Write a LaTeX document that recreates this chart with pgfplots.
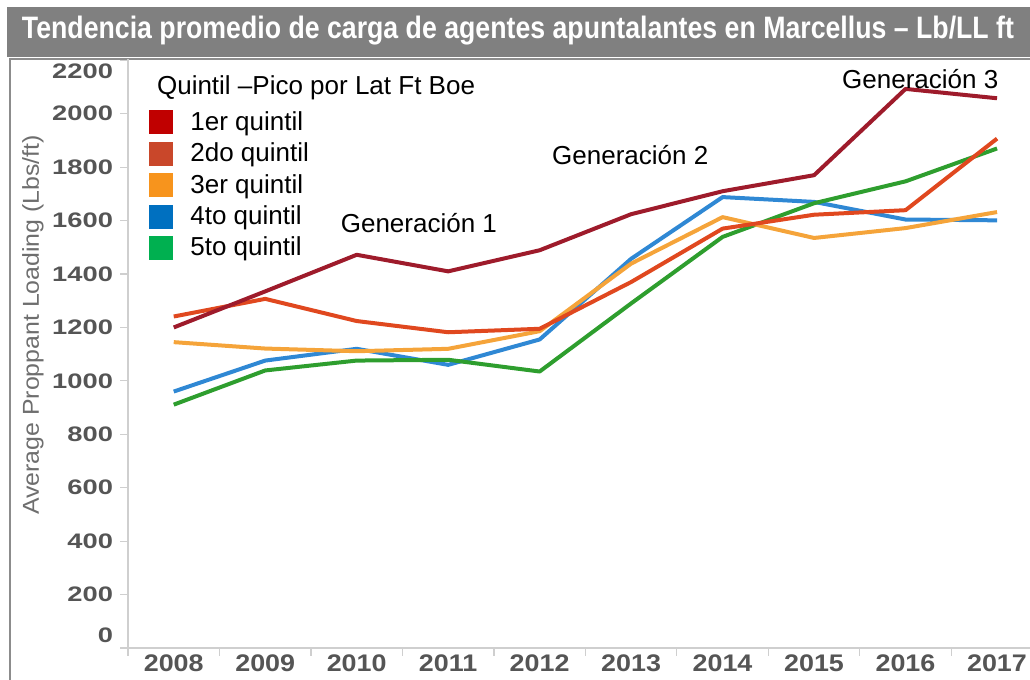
\documentclass[border=0pt]{standalone}
\usepackage{fontspec}
\setmainfont{Liberation Sans}
\usepackage{graphicx}
\usepackage{pgfplots}
\pgfplotsset{compat=1.18}

% line colours
\definecolor{q1}{HTML}{9E1B2B}
\definecolor{q2}{HTML}{E0481F}
\definecolor{q3}{HTML}{F5A43A}
\definecolor{q4}{HTML}{2F88D4}
\definecolor{q5}{HTML}{2E9E2E}
% legend squares
\definecolor{l1}{HTML}{C00000}
\definecolor{l2}{HTML}{C9472A}
\definecolor{l3}{HTML}{F7941D}
\definecolor{l4}{HTML}{0070C0}
\definecolor{l5}{HTML}{00B050}
\definecolor{band}{HTML}{808080}
\definecolor{frame}{HTML}{8C8C8C}
\definecolor{axgray}{HTML}{CFCFCF}
\definecolor{tickgray}{HTML}{555555}
\definecolor{labgray}{HTML}{6E6E6E}

% first and last y labels sit a little inside the axis, as in the original
\newcommand{\ylab}{%
  \ifnum\ticknum=0 \raisebox{6.5pt}[\height][\depth]{\scalebox{1.3}[1]{\pgfmathprintnumber{\tick}}}%
  \else\ifnum\ticknum=11 \raisebox{-5.5pt}[\height][\depth]{\scalebox{1.3}[1]{\pgfmathprintnumber{\tick}}}%
  \else\scalebox{1.3}[1]{\pgfmathprintnumber{\tick}}\fi\fi}

\begin{document}
\begin{tikzpicture}
\useasboundingbox (0,0) rectangle (515pt,340pt);
\fill[band] (3.5pt,311.5pt) rectangle (515pt,336.5pt);
\node[text=white, font=\bfseries\fontsize{15.5}{17}\selectfont] at (259pt,324.5pt)
  {\resizebox{496pt}{\height}{Tendencia promedio de carga de agentes apuntalantes en Marcellus – Lb/LL ft}};
\draw[frame, line width=1pt] (5pt,0) -- (5pt,310.5pt) -- (515pt,310.5pt);
\node[rotate=90, text=labgray, font=\fontsize{11.5}{13}\selectfont] at (16.5pt,177.5pt)
  {\resizebox{190pt}{\height}{Average Proppant Loading (Lbs/ft)}};

\begin{axis}[
  at={(64pt,16pt)}, anchor=south west,
  scale only axis, width=451pt, height=294.5pt,
  xmin=2007.5, xmax=2017.36, ymin=0, ymax=2205,
  axis x line=bottom, axis y line=left,
  axis line style={-, draw=axgray, line width=0.8pt},
  clip=false,
  xtick={2008,2009,...,2017},
  minor xtick={2007.5,2008.5,...,2016.5},
  ytick={0,200,...,2200},
  tick align=outside,
  major tick length=4pt, minor tick length=4pt,
  major x tick style={draw=none},
  tick style={draw=axgray, line width=0.6pt},
  scaled ticks=false,
  /pgf/number format/1000 sep={},
  /pgf/number format/assume math mode=true,
  xticklabel={\scalebox{1.12}[1]{\pgfmathprintnumber{\tick}}},
  yticklabel={\ylab},
  xticklabel style={font=\bfseries\fontsize{12}{14}\selectfont, text=tickgray, yshift=4pt},
  yticklabel style={font=\bfseries\fontsize{10.5}{12}\selectfont, text=tickgray},
  legend image code/.code={\fill[#1] (0pt,-6pt) rectangle (12pt,6pt);},
  legend style={at={(rel axis cs:0,1)}, anchor=north west, xshift=10.5pt, yshift=-25.5pt,
    draw=none, fill=none, inner sep=0pt, font=\fontsize{13}{15}\selectfont,
    nodes={inner sep=0pt}, column sep=8.5pt, row sep=3.7pt},
  legend cell align=left,
  every axis plot/.append style={line width=2pt, line join=round},
]
\addlegendimage{fill=l1, draw=none}
\addlegendentry{1er quintil}
\addlegendimage{fill=l2, draw=none}
\addlegendentry{2do quintil}
\addlegendimage{fill=l3, draw=none}
\addlegendentry{3er quintil}
\addlegendimage{fill=l4, draw=none}
\addlegendentry{4to quintil}
\addlegendimage{fill=l5, draw=none}
\addlegendentry{5to quintil}

% 4to quintil
\addplot[q4, forget plot] coordinates {(2008,960) (2009,1076) (2010,1120) (2011,1060) (2012,1155) (2013,1457) (2014,1688) (2015,1670) (2016,1604) (2017,1601)};
% 5to quintil
\addplot[q5, forget plot] coordinates {(2008,911) (2009,1039) (2010,1076) (2011,1079) (2012,1035) (2013,1290) (2014,1539) (2015,1665) (2016,1747) (2017,1870)};
% 3er quintil
\addplot[q3, forget plot] coordinates {(2008,1145) (2009,1121) (2010,1111) (2011,1120) (2012,1186) (2013,1439) (2014,1613) (2015,1535) (2016,1572) (2017,1632)};
% 2do quintil
\addplot[q2, forget plot] coordinates {(2008,1241) (2009,1307) (2010,1224) (2011,1182) (2012,1195) (2013,1370) (2014,1570) (2015,1622) (2016,1639) (2017,1907)};
% 1er quintil
\addplot[q1, forget plot] coordinates {(2008,1200) (2009,1335) (2010,1472) (2011,1410) (2012,1489) (2013,1624) (2014,1710) (2015,1770) (2016,2093) (2017,2058)};

\node[anchor=west, font=\fontsize{13}{15}\selectfont] at (rel axis cs:0,1) [xshift=11pt, yshift=-14.5pt] {Quintil –Pico por Lat Ft Boe};
\node[font=\fontsize{13}{15}\selectfont] at (axis cs:2010.68,1591) {Generación 1};
\node[font=\fontsize{13}{15}\selectfont] at (axis cs:2012.99,1846) {Generación 2};
\node[font=\fontsize{13}{15}\selectfont] at (axis cs:2016.16,2130) {Generación 3};
\end{axis}
\end{tikzpicture}
\end{document}
